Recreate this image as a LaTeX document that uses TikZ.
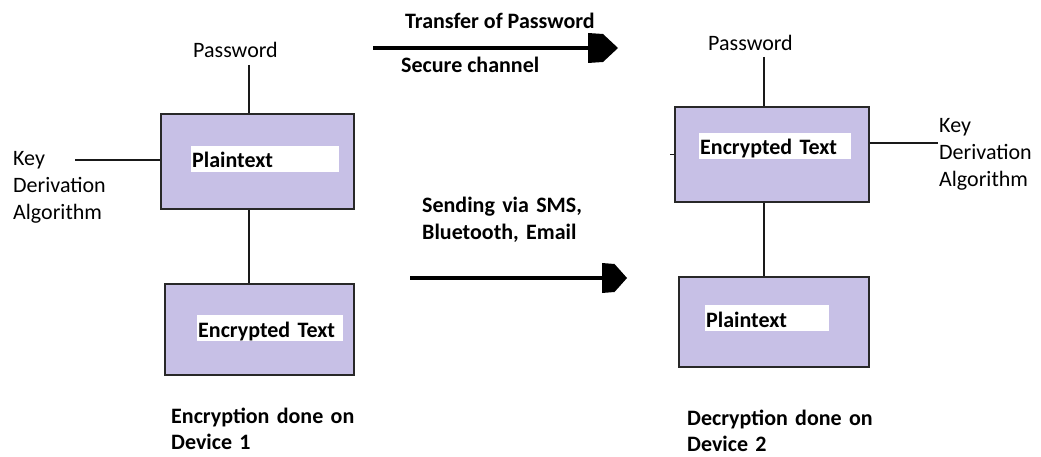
\documentclass[tikz,border=0pt]{standalone}
\usepackage{fontspec}
\setmainfont{Carlito}
\definecolor{boxfill}{RGB}{199,192,230}
\definecolor{boxline}{RGB}{40,40,40}
\definecolor{linkline}{RGB}{25,25,25}
\begin{document}
\begin{tikzpicture}[x=1pt,y=-1pt,
  box/.style={draw=boxline, line width=1.8pt, fill=boxfill, inner sep=0pt},
  tag/.style={fill=white, inner xsep=1pt, inner ysep=0pt, text height=22pt, text depth=4pt,
    text width=#1, align=left, anchor=base west, font=\bfseries\fontsize{22}{27}\selectfont},
  plain/.style={inner sep=0pt, anchor=base west, align=left, font=\fontsize{22}{27}\selectfont},
  heading/.style={plain, font=\bfseries\fontsize{22}{26.5}\selectfont},
  link/.style={draw=linkline, line width=1.5pt},
  channel/.style={draw=black, line width=4.5pt},
  pics/blockhead/.style={code={
    \fill[black, line join=round] (-#1,-15) -- (-#1*0.5,-14) -- (0,0) -- (-#1*0.5,14) -- (-#1,15) -- cycle;}}
]
\useasboundingbox (0,0) rectangle (1041,457);

% Device 1: encryption
\node[box, minimum width=193pt, minimum height=95pt] (boxA) at (257.5,161.5) {};
\node[tag=146pt] (tagA) at (191,168) {Plaintext};
\node[box, minimum width=189pt, minimum height=91pt] (boxB) at (259.5,329.5) {};
\node[tag=144pt] (tagB) at (197,337) {Encrypted Text};
\node[plain] (pwA) at (193,58) {Password};
\node[plain, text width=120pt] (kdaA) at (13,166) {Key\\Derivation\\Algorithm};
\node[heading, text width=220pt] (capA) at (171,423) {Encryption done on\\Device 1};

% Device 2: decryption
\node[box, minimum width=194pt, minimum height=95pt] (boxC) at (772,154.5) {};
\node[tag=150pt] (tagC) at (699,155) {Encrypted Text};
\node[box, minimum width=190pt, minimum height=90pt] (boxD) at (774,322) {};
\node[tag=122pt] (tagD) at (705,327) {Plaintext};
\node[plain] (pwC) at (708,51) {Password};
\node[plain, text width=120pt] (kdaC) at (939,133) {Key\\Derivation\\Algorithm};
\node[heading, text width=220pt] (capC) at (687,425) {Decryption done on\\Device 2};

% connectors inside each device
\coordinate (pwAfoot) at (249,65);
\coordinate (pwCfoot) at (764,57);
\coordinate (kdaAend) at (75,160);
\coordinate (kdaCend) at (938,143);
\draw[link] (pwAfoot) -- (pwAfoot |- boxA.north);
\draw[link] (boxA.south -| pwAfoot) -- (boxB.north -| pwAfoot);
\draw[link] (kdaAend) -- (kdaAend -| boxA.west);
\draw[link] (pwCfoot) -- (pwCfoot |- boxC.north);
\draw[link] (boxC.south -| pwCfoot) -- (boxD.north -| pwCfoot);
\draw[link] (kdaCend -| boxC.east) -- (kdaCend);
\draw[link] (boxC.west) -- ++(-4,0);

% transfer channels between the devices
\node[heading] (secT) at (405,29) {Transfer of Password};
\node[heading] (secB) at (401,73) {Secure channel};
\node[heading, text width=200pt] (msg) at (422,213) {Sending via SMS,\\Bluetooth, Email};
\coordinate (secStart) at (373,48);
\coordinate (secTip) at (618,48);
\coordinate (msgStart) at (410,278);
\coordinate (msgTip) at (627,278);
\draw[channel] (secStart) -- ([xshift=-26pt]secTip);
\pic at (secTip) {blockhead=30};
\draw[channel] (msgStart) -- ([xshift=-22pt]msgTip);
\pic at (msgTip) {blockhead=25};
\end{tikzpicture}
\end{document}
